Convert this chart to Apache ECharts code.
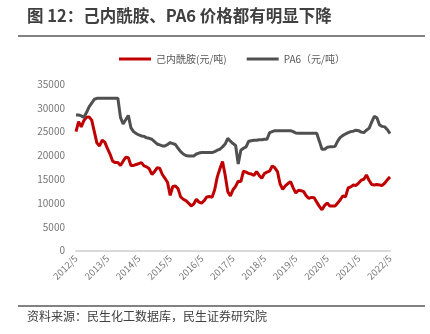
<!DOCTYPE html>
<html>
<head>
<meta charset="utf-8">
<script src="https://cdn.jsdelivr.net/npm/echarts@6/dist/echarts.min.js"></script>
<style>
  html, body { margin: 0; padding: 0; background: #fff; }
  #chart { width: 430px; height: 334px; }
</style>
</head>
<body>
<div id="chart"></div>
<script>
// Monthly prices, 2012/5 – 2022/5 (元/吨)
const startYear = 2012;
const startMonth = 5;

const caprolactam = [
  25000, 27100, 26000, 27300, 28000, 28100, 27400, 25000, 22600, 22000,
  23200, 22800, 21500, 20300, 18800, 18500, 18500, 17900, 18800, 19600,
  19500, 17900, 17900, 18100, 18300, 18500, 17800, 17600, 17200, 16000,
  16600, 17400, 17300, 16000, 15200, 14300, 11600, 13500, 13600, 13000,
  11300, 10800, 10500, 10000, 9400, 9800, 10800, 10200, 10000, 10500,
  11300, 11400, 11200, 12800, 15500, 17200, 18700, 15900, 12400, 11500,
  12800, 13500, 14600, 14500, 16700, 16500, 16200, 16100, 15800, 16600,
  15800, 15200, 16200, 16500, 16700, 17800, 17400, 16600, 14000, 12900,
  13600, 14100, 14500, 13200, 12100, 12700, 12600, 12400, 11500, 11000,
  11200, 11100, 10200, 9300, 8600, 9500, 10000, 9400, 9400, 9400,
  10000, 10700, 11500, 11300, 13200, 13400, 13800, 13700, 14200, 14800,
  15000, 15900, 14800, 13900, 13800, 13900, 13800, 13700, 14200, 14900,
  15500
];

const pa6 = [
  28500, 28500, 28300, 28000, 29000, 30200, 31000, 31800, 32000, 32000,
  32000, 32000, 32000, 32000, 32000, 32000, 32000, 28000, 26600, 27500,
  28400, 25800, 25000, 24600, 24300, 24100, 24000, 23700, 23600, 23400,
  22900, 22400, 22200, 22000, 22000, 22300, 22700, 22500, 22300, 21500,
  20800, 20300, 20000, 19900, 19900, 19900, 20300, 20500, 20600, 20600,
  20600, 20600, 20600, 20800, 21100, 21300, 21800, 22400, 23600, 23000,
  22500, 22100, 18200, 21100, 21500, 21800, 23000, 23100, 23200, 23200,
  23300, 23300, 23400, 23400, 24800, 25000, 25200, 25200, 25200, 25200,
  25200, 25200, 25200, 25000, 24700, 24650, 24650, 24650, 24650, 24650,
  24650, 24650, 24650, 23000, 21300, 21300, 21700, 21800, 21800, 21900,
  23000, 23800, 24200, 24500, 24800, 25000, 25100, 25300, 25200, 24900,
  24800, 25300, 25700, 27000, 28200, 27900, 26400, 26100, 26000, 25400,
  24600
];

// Month labels "YYYY/M" for each data point
const months = caprolactam.map((_, i) => {
  const t = startMonth - 1 + i;
  return (startYear + Math.floor(t / 12)) + '/' + (t % 12 + 1);
});

const seriesNames = ['己内酰胺(元/吨)', 'PA6（元/吨）'];
const titleText = '图 12：己内酰胺、PA6 价格都有明显下降';
const sourceText = '资料来源：民生化工数据库，民生证券研究院';

const FONT = '"Noto Sans CJK SC", "Microsoft YaHei", sans-serif';

const chart = echarts.init(document.getElementById('chart'));
chart.setOption({
  backgroundColor: '#fff',
  animation: false,
  textStyle: { fontFamily: FONT },
  graphic: [
    {
      type: 'text', left: 27, top: 7,
      style: { text: titleText, fontSize: 16.5, fontWeight: 'bold', fill: '#404040', fontFamily: FONT }
    },
    {
      type: 'line', shape: { x1: 18, y1: 36, x2: 425, y2: 36 },
      style: { stroke: '#595959', lineWidth: 1.5 }
    },
    {
      type: 'line', shape: { x1: 18, y1: 306, x2: 425, y2: 306 },
      style: { stroke: '#595959', lineWidth: 1.5 }
    },
    {
      type: 'text', left: 27, top: 310,
      style: { text: sourceText, fontSize: 12, fill: '#404040', fontFamily: FONT }
    }
  ],
  legend: {
    top: 49,
    left: 114,
    itemWidth: 32,
    itemHeight: 3,
    itemGap: 20,
    icon: 'rect',
    textStyle: { fontSize: 10, color: '#595959', fontFamily: FONT },
    data: seriesNames
  },
  grid: { left: 76, right: 40, top: 84, bottom: 83.3, containLabel: false },
  xAxis: {
    type: 'category',
    data: months,
    boundaryGap: false,
    axisLine: { lineStyle: { color: '#d9d9d9', width: 2 } },
    axisTick: { show: false },
    axisLabel: {
      interval: 11,
      rotate: 45,
      color: '#757575',
      fontSize: 9.5,
      margin: 6,
      fontFamily: FONT
    },
    splitLine: { show: false }
  },
  yAxis: {
    type: 'value',
    min: 0,
    max: 35000,
    interval: 5000,
    axisLine: { show: false },
    axisTick: { show: false },
    splitLine: { show: false },
    axisLabel: {
      color: '#757575', fontSize: 10, margin: 11, fontFamily: FONT,
      formatter: v => String(v)
    }
  },
  series: [
    {
      name: seriesNames[0],
      type: 'line',
      data: caprolactam,
      showSymbol: false,
      lineStyle: { color: '#C00000', width: 3 },
      itemStyle: { color: '#C00000' }
    },
    {
      name: seriesNames[1],
      type: 'line',
      data: pa6,
      showSymbol: false,
      lineStyle: { color: '#505050', width: 3 },
      itemStyle: { color: '#505050' }
    }
  ]
});
</script>
</body>
</html>
